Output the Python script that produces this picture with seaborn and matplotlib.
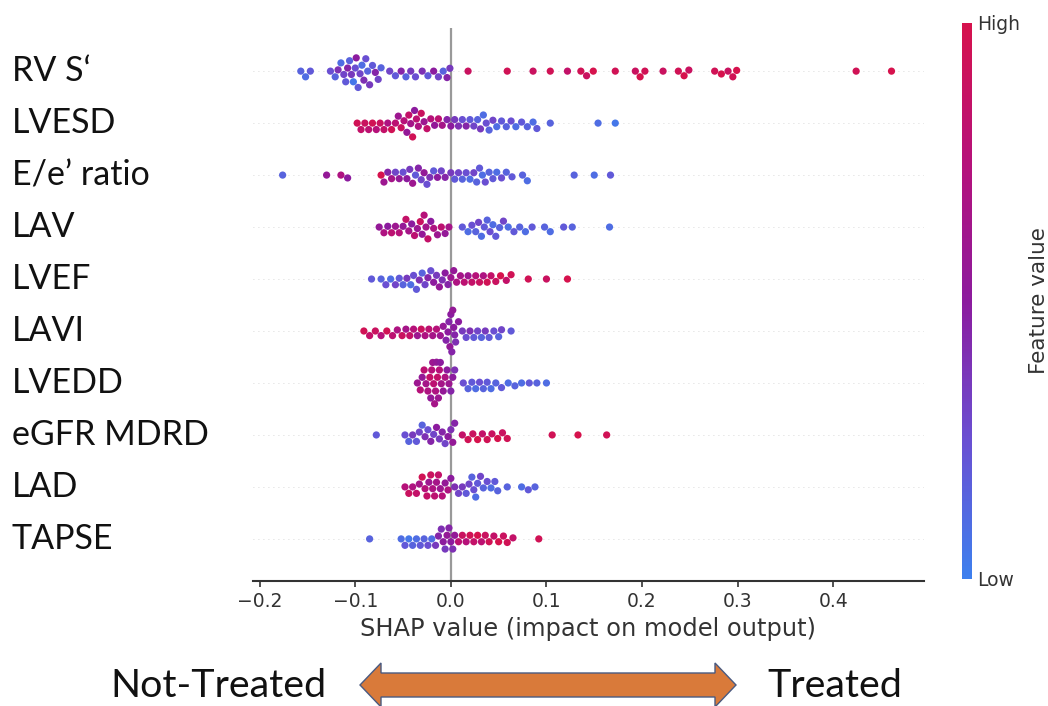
import pandas as pd
import matplotlib
matplotlib.use("Agg")
import matplotlib.pyplot as plt
import seaborn as sns
from matplotlib.colors import LinearSegmentedColormap, Normalize
from matplotlib.patches import Polygon
import matplotlib.transforms as mtransforms

# features, top to bottom
features = ["RV S\u2018", "LVESD", "E/e\u2019 ratio", "LAV", "LVEF",
            "LAVI", "LVEDD", "eGFR MDRD", "LAD", "TAPSE"]

# (shap value, scaled feature value 0=low 1=high)
rvs = [(-0.157, 0.15), (-0.152, 0.10), (-0.147, 0.20),
       (-0.126, 0.25), (-0.121, 0.15), (-0.118, 0.40), (-0.115, 0.10), (-0.112, 0.30),
       (-0.110, 0.20), (-0.108, 0.45), (-0.106, 0.15), (-0.104, 0.35), (-0.102, 0.05),
       (-0.100, 0.25), (-0.099, 0.50), (-0.097, 0.20), (-0.095, 0.30), (-0.093, 0.10),
       (-0.091, 0.40), (-0.089, 0.25), (-0.087, 0.15), (-0.085, 0.35), (-0.082, 0.20),
       (-0.079, 0.45), (-0.076, 0.30), (-0.073, 0.15),
       (-0.064, 0.30), (-0.058, 0.20), (-0.052, 0.45), (-0.047, 0.15), (-0.042, 0.35),
       (-0.037, 0.25), (-0.030, 0.40), (-0.024, 0.20), (-0.018, 0.50), (-0.013, 0.30),
       (-0.008, 0.15), (-0.004, 0.45), (-0.001, 0.35),
       (0.018, 0.90), (0.059, 0.95), (0.086, 0.90), (0.104, 0.95), (0.122, 0.85),
       (0.136, 0.95), (0.142, 0.90), (0.149, 1.00), (0.172, 0.95), (0.193, 0.90),
       (0.198, 1.00), (0.203, 0.95), (0.222, 0.90), (0.238, 0.95), (0.244, 1.00),
       (0.249, 0.90), (0.276, 0.95), (0.283, 1.00), (0.290, 0.90), (0.295, 0.95),
       (0.299, 1.00), (0.424, 0.95), (0.461, 1.00)]

lvesd = [(-0.098, 0.95), (-0.094, 0.85), (-0.090, 0.90), (-0.086, 0.80), (-0.082, 0.95),
         (-0.078, 0.75), (-0.074, 0.90), (-0.070, 0.85), (-0.066, 0.70), (-0.062, 0.95),
         (-0.058, 0.80), (-0.055, 0.60), (-0.052, 0.90), (-0.049, 0.75), (-0.046, 0.55),
         (-0.044, 0.85), (-0.042, 0.65), (-0.040, 0.95), (-0.038, 0.50), (-0.036, 0.80),
         (-0.034, 0.70), (-0.031, 0.90), (-0.028, 0.60), (-0.025, 0.85), (-0.021, 0.75),
         (-0.017, 0.55), (-0.013, 0.80), (-0.009, 0.65),
         (-0.004, 0.45), (0.000, 0.50), (0.004, 0.35), (0.008, 0.40), (0.012, 0.25),
         (0.016, 0.45), (0.020, 0.20), (0.024, 0.30), (0.028, 0.15), (0.031, 0.35),
         (0.034, 0.10), (0.037, 0.25), (0.040, 0.15), (0.044, 0.30), (0.048, 0.10),
         (0.053, 0.20), (0.058, 0.15), (0.063, 0.25), (0.068, 0.10), (0.074, 0.20),
         (0.080, 0.15), (0.086, 0.10), (0.090, 0.20),
         (0.104, 0.15), (0.154, 0.10), (0.172, 0.05)]

ee_ratio = [(-0.176, 0.15), (-0.130, 0.55), (-0.115, 0.70), (-0.108, 0.50),
            (-0.073, 1.00), (-0.070, 0.60), (-0.066, 0.45), (-0.062, 0.65), (-0.058, 0.30),
            (-0.054, 0.55), (-0.050, 0.25), (-0.046, 0.50), (-0.043, 0.35), (-0.040, 0.60),
            (-0.037, 0.20), (-0.034, 0.45), (-0.031, 0.30), (-0.028, 0.55), (-0.025, 0.25),
            (-0.022, 0.40), (-0.018, 0.20), (-0.014, 0.50), (-0.010, 0.30), (-0.006, 0.45),
            (0.000, 0.35), (0.004, 0.20), (0.008, 0.30), (0.012, 0.15), (0.016, 0.25),
            (0.020, 0.10), (0.024, 0.30), (0.027, 0.15), (0.030, 0.20), (0.033, 0.10),
            (0.036, 0.25), (0.040, 0.15), (0.044, 0.20), (0.048, 0.10), (0.053, 0.25),
            (0.058, 0.15), (0.064, 0.20), (0.075, 0.15), (0.080, 0.10),
            (0.129, 0.15), (0.150, 0.10), (0.167, 0.20)]

lav = [(-0.075, 0.55), (-0.070, 0.70), (-0.066, 0.50), (-0.062, 0.80), (-0.058, 0.60),
       (-0.054, 0.75), (-0.050, 0.55), (-0.047, 0.85), (-0.044, 0.65), (-0.041, 0.50),
       (-0.038, 0.80), (-0.035, 0.60), (-0.032, 0.90), (-0.030, 0.55), (-0.028, 0.75),
       (-0.026, 0.65), (-0.024, 0.85), (-0.021, 0.50), (-0.018, 0.70), (-0.014, 0.60),
       (-0.010, 0.80), (-0.006, 0.55), (-0.002, 0.65),
       (0.012, 0.20), (0.018, 0.10), (0.022, 0.25), (0.026, 0.15), (0.029, 0.30),
       (0.032, 0.10), (0.035, 0.20), (0.038, 0.15), (0.041, 0.25), (0.044, 0.10),
       (0.047, 0.20), (0.051, 0.15), (0.055, 0.30), (0.060, 0.10), (0.066, 0.20),
       (0.072, 0.15), (0.078, 0.10), (0.085, 0.20), (0.098, 0.15), (0.104, 0.10),
       (0.118, 0.20), (0.127, 0.15), (0.166, 0.10)]

lvef = [(-0.083, 0.20), (-0.073, 0.15), (-0.068, 0.25), (-0.063, 0.10), (-0.058, 0.30),
        (-0.054, 0.20), (-0.050, 0.15), (-0.046, 0.35), (-0.042, 0.10), (-0.039, 0.25),
        (-0.036, 0.20), (-0.033, 0.40), (-0.030, 0.15), (-0.027, 0.30), (-0.024, 0.45),
        (-0.021, 0.25), (-0.018, 0.50), (-0.015, 0.35), (-0.012, 0.55), (-0.009, 0.40),
        (-0.006, 0.50), (-0.003, 0.45),
        (0.000, 0.60), (0.003, 0.55), (0.006, 0.70), (0.010, 0.65), (0.014, 0.80),
        (0.018, 0.60), (0.022, 0.85), (0.026, 0.75), (0.030, 0.90), (0.034, 0.70),
        (0.038, 0.95), (0.042, 0.85), (0.047, 0.90), (0.052, 1.00), (0.058, 0.85),
        (0.063, 0.95), (0.081, 0.95), (0.100, 0.90), (0.122, 1.00)]

lavi = [(-0.091, 0.95), (-0.085, 0.85), (-0.079, 0.90), (-0.073, 0.75), (-0.067, 0.95),
        (-0.061, 0.80), (-0.056, 0.70), (-0.051, 0.90), (-0.047, 0.65), (-0.043, 0.85),
        (-0.039, 0.75), (-0.035, 0.60), (-0.031, 0.90), (-0.027, 0.70), (-0.023, 0.80),
        (-0.019, 0.65), (-0.015, 0.75), (-0.011, 0.60),
        (-0.008, 0.55), (-0.005, 0.45), (-0.003, 0.50), (-0.002, 0.45), (-0.001, 0.55),
        (0.000, 0.50), (0.001, 0.45), (0.002, 0.55), (0.003, 0.50), (0.004, 0.45),
        (0.005, 0.40), (0.008, 0.50),
        (0.012, 0.35), (0.016, 0.25), (0.020, 0.40), (0.024, 0.20), (0.028, 0.30),
        (0.032, 0.15), (0.036, 0.35), (0.040, 0.20), (0.045, 0.25), (0.050, 0.15),
        (0.053, 0.30), (0.063, 0.20)]

lvedd = [(-0.035, 0.60), (-0.032, 0.75), (-0.030, 0.55), (-0.028, 0.80), (-0.026, 0.65),
         (-0.024, 0.70), (-0.022, 0.85), (-0.021, 0.55), (-0.020, 0.75), (-0.019, 0.60),
         (-0.018, 0.80), (-0.017, 0.65), (-0.016, 0.70), (-0.015, 0.55), (-0.014, 0.85),
         (-0.013, 0.60), (-0.012, 0.75), (-0.011, 0.50), (-0.010, 0.65), (-0.008, 0.55),
         (-0.006, 0.70), (-0.004, 0.50), (-0.002, 0.60), (0.000, 0.45), (0.002, 0.50),
         (0.004, 0.40),
         (0.013, 0.25), (0.018, 0.15), (0.022, 0.20), (0.026, 0.10), (0.030, 0.25),
         (0.034, 0.15), (0.038, 0.20), (0.042, 0.10), (0.047, 0.15), (0.053, 0.20),
         (0.060, 0.10), (0.067, 0.15), (0.074, 0.10), (0.082, 0.20), (0.090, 0.15),
         (0.100, 0.10)]

egfr = [(-0.078, 0.20), (-0.048, 0.25), (-0.044, 0.15), (-0.040, 0.35), (-0.036, 0.20),
        (-0.033, 0.30), (-0.030, 0.15), (-0.027, 0.40), (-0.024, 0.25), (-0.021, 0.45),
        (-0.018, 0.30), (-0.015, 0.50), (-0.012, 0.35), (-0.009, 0.45), (-0.006, 0.30),
        (-0.003, 0.50), (0.000, 0.40), (0.002, 0.55), (0.004, 0.45),
        (0.012, 0.85), (0.018, 0.95), (0.023, 0.90), (0.028, 1.00), (0.033, 0.85),
        (0.038, 0.95), (0.043, 0.90), (0.049, 1.00), (0.054, 0.90), (0.059, 0.95),
        (0.106, 0.95), (0.133, 1.00), (0.163, 0.95)]

lad = [(-0.048, 0.75), (-0.044, 0.90), (-0.040, 0.70), (-0.036, 0.85), (-0.033, 0.65),
       (-0.030, 0.95), (-0.027, 0.75), (-0.025, 0.85), (-0.023, 0.60), (-0.021, 0.90),
       (-0.019, 0.70), (-0.017, 0.80), (-0.015, 0.65), (-0.013, 0.85), (-0.011, 0.60),
       (-0.009, 0.75), (-0.006, 0.55), (-0.003, 0.70), (0.000, 0.50),
       (0.004, 0.40), (0.008, 0.30), (0.012, 0.35), (0.016, 0.20), (0.019, 0.30),
       (0.022, 0.15), (0.024, 0.25), (0.026, 0.10), (0.028, 0.20), (0.031, 0.30),
       (0.034, 0.15), (0.038, 0.25), (0.042, 0.10), (0.046, 0.20), (0.049, 0.15),
       (0.059, 0.15), (0.074, 0.10), (0.081, 0.20), (0.088, 0.15)]

tapse = [(-0.085, 0.15), (-0.052, 0.10), (-0.048, 0.20), (-0.044, 0.05), (-0.040, 0.15),
         (-0.036, 0.10), (-0.032, 0.20), (-0.028, 0.15), (-0.024, 0.25), (-0.020, 0.10),
         (-0.016, 0.35), (-0.013, 0.45), (-0.010, 0.40), (-0.008, 0.50), (-0.006, 0.35),
         (-0.004, 0.55), (-0.002, 0.45), (0.000, 0.50), (0.002, 0.40), (0.004, 0.55),
         (0.008, 0.80), (0.012, 0.90), (0.016, 0.75), (0.020, 0.95), (0.024, 0.85),
         (0.028, 1.00), (0.032, 0.80), (0.036, 0.90), (0.040, 0.95), (0.045, 0.85),
         (0.050, 1.00), (0.055, 0.90), (0.059, 0.95), (0.065, 0.85), (0.092, 0.95)]

xticks = [-0.2, -0.1, 0.0, 0.1, 0.2, 0.3, 0.4]

# long table for seaborn
rows = []
for name, pts in zip(features, [rvs, lvesd, ee_ratio, lav, lvef, lavi, lvedd, egfr, lad, tapse]):
    for s, v in pts:
        rows.append({"feature": name, "shap": s, "value": v})
df = pd.DataFrame(rows)

sns.set_theme(style="white")
plt.rcParams["font.family"] = ["DejaVu Sans"]

W, H = 1048, 706
fig = plt.figure(figsize=(W / 100, H / 100), dpi=100)

def fx(px):
    return px / W

def fy(py):
    return 1 - py / H

ax = fig.add_axes([fx(253), fy(581), fx(924) - fx(253), fy(28) - fy(581)])

cmap = LinearSegmentedColormap.from_list(
    "shap_like", ["#3d80ee", "#6a4fd2", "#8c1b9e", "#b6117a", "#d6124d"])

# faint row guides and zero line like shap
for i in range(len(features)):
    ax.axhline(i, color="#cccccc", lw=0.6, dashes=(1, 5), zorder=-1)
ax.axvline(0, color="#999999", lw=1.6, zorder=-1)

sns.swarmplot(data=df, x="shap", y="feature", hue="value", order=features,
              palette=cmap, hue_norm=(0, 1), size=5.2, linewidth=0,
              legend=False, orient="h", ax=ax, warn_thresh=1)

ax.set_xlim(-0.207, 0.495)
ax.set_ylim(len(features) - 1 + 0.81, -0.83)
ax.set_yticks([])
ax.set_ylabel("")
ax.set_xticks(xticks)
ax.set_xticklabels(["\u22120.2", "\u22120.1", "0.0", "0.1", "0.2", "0.3", "0.4"])
ax.tick_params(axis="x", labelsize=13.5, colors="#333333", length=4, width=1.2,
               bottom=True, pad=4)
ax.set_xlabel("SHAP value (impact on model output)", fontsize=17.4,
              color="#333333", labelpad=4)
for side in ["top", "right", "left"]:
    ax.spines[side].set_visible(False)
ax.spines["bottom"].set_color("#333333")
ax.spines["bottom"].set_linewidth(1.5)

# feature names, left aligned at the figure edge
trans = mtransforms.blended_transform_factory(fig.transFigure, ax.transData)
for i, name in enumerate(features):
    ax.text(fx(12), i, name, transform=trans, ha="left", va="center",
            fontsize=24.5, family=["Lato", "DejaVu Sans"], color="#111111")

# colour bar
cax = fig.add_axes([fx(962), fy(579), fx(10), fy(23) - fy(579)])
sm = plt.cm.ScalarMappable(norm=Normalize(0, 1), cmap=cmap)
cb = fig.colorbar(sm, cax=cax, ticks=[0, 1])
cb.outline.set_visible(False)
cb.set_ticklabels(["Low", "High"])
cax.tick_params(length=0, labelsize=13.5, colors="#333333", pad=4)
cb.set_label("Feature value", fontsize=15.5, color="#333333", labelpad=6)

# bottom direction arrow
arrow_px = [(360, 685), (381, 663), (381, 673), (715, 673), (715, 663), (736, 685),
            (715, 707), (715, 697), (381, 697), (381, 707)]
fig.patches.append(Polygon([(fx(x), fy(y)) for x, y in arrow_px], closed=True,
                           transform=fig.transFigure, facecolor="#d97a3a",
                           edgecolor="#4a5a80", lw=1.0))
fig.text(fx(110), fy(686), "Not-Treated", ha="left", va="center", fontsize=28.4,
         family=["Lato", "DejaVu Sans"], color="#111111")
fig.text(fx(767), fy(686), "Treated", ha="left", va="center", fontsize=28.4,
         family=["Lato", "DejaVu Sans"], color="#111111")

fig.savefig("out.png", dpi=100)
